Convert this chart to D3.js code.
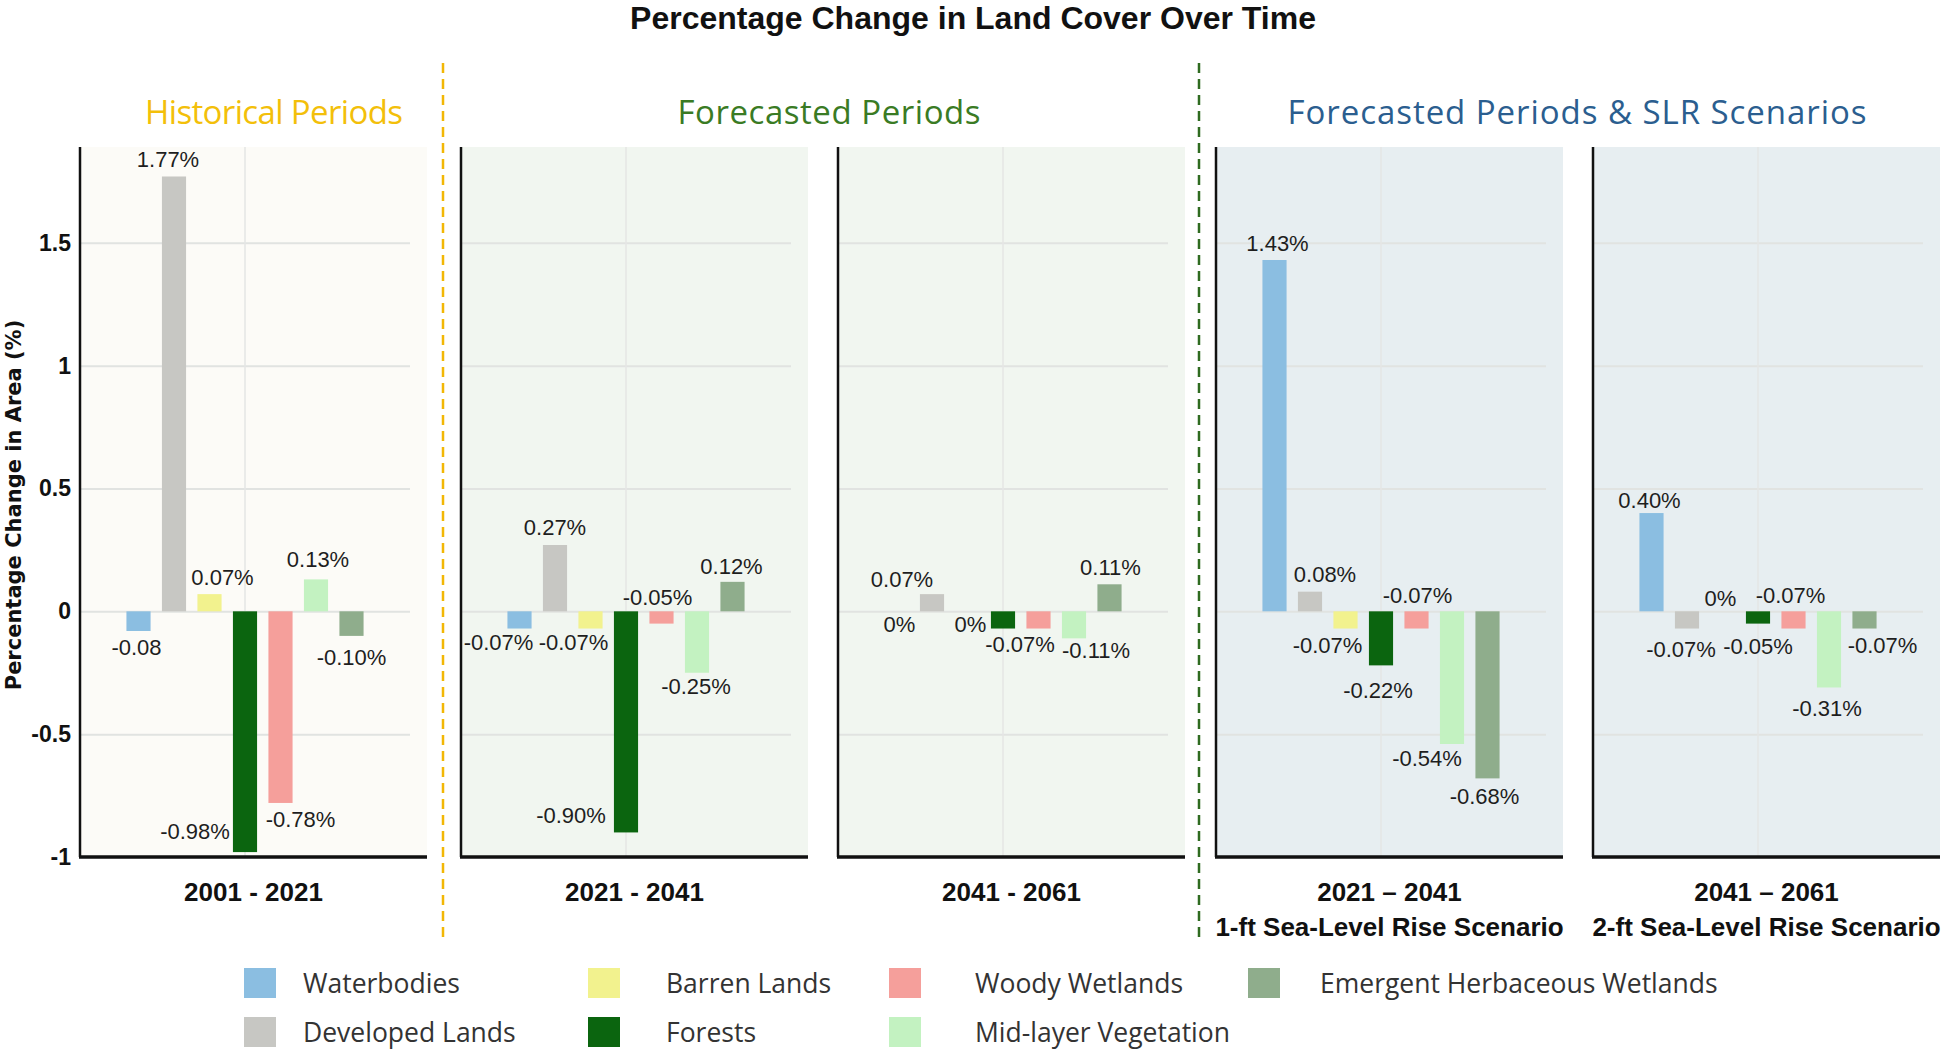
<!DOCTYPE html>
<html>
<head>
<meta charset="utf-8">
<script src="https://cdn.jsdelivr.net/npm/d3@7"></script>
<style>
  body { margin: 0; background: #fff; }
  svg { display: block; }
</style>
</head>
<body>
<script>
// land cover classes, in bar order
const categories = [
  "Waterbodies", "Developed Lands", "Barren Lands", "Forests",
  "Woody Wetlands", "Mid-layer Vegetation", "Emergent Herbaceous Wetlands"
];
const colors = ["#8bbee1", "#c7c7c3", "#f2f28e", "#0b650f", "#f59f9b", "#c3f2c1", "#8fad8c"];

const periods = ["2001 - 2021", "2021 - 2041", "2041 - 2061", "2021 \u2013 2041", "2041 \u2013 2061"];
const scenarios = ["", "", "", "1-ft Sea-Level Rise Scenario", "2-ft Sea-Level Rise Scenario"];

// % change in area per class
const values2001_2021 = [-0.08, 1.77, 0.07, -0.98, -0.78, 0.13, -0.10];
const values2021_2041 = [-0.07, 0.27, -0.07, -0.90, -0.05, -0.25, 0.12];
const values2041_2061 = [0, 0.07, 0, -0.07, -0.07, -0.11, 0.11];
const valuesSlr1ft = [1.43, 0.08, -0.07, -0.22, -0.07, -0.54, -0.68];
const valuesSlr2ft = [0.40, -0.07, 0, -0.05, -0.07, -0.31, -0.07];

const labels2001_2021 = ["-0.08", "1.77%", "0.07%", "-0.98%", "-0.78%", "0.13%", "-0.10%"];
const labels2021_2041 = ["-0.07%", "0.27%", "-0.07%", "-0.90%", "-0.05%", "-0.25%", "0.12%"];
const labels2041_2061 = ["0%", "0.07%", "0%", "-0.07%", "", "-0.11%", "0.11%"];
const labelsSlr1ft = ["1.43%", "0.08%", "-0.07%", "-0.22%", "-0.07%", "-0.54%", "-0.68%"];
const labelsSlr2ft = ["0.40%", "-0.07%", "0%", "-0.05%", "-0.07%", "-0.31%", "-0.07%"];

const yTicks = [-1, -0.5, 0, 0.5, 1, 1.5];

const groupNames = ["Historical Periods", "Forecasted Periods", "Forecasted Periods & SLR Scenarios"];

// ---- layout / style ----
const W = 1949, H = 1059;
const panelLefts = [80, 461, 838, 1216, 1593];
const panelTop = 147, panelBottom = 857;
const plotW = 330, bgW = 347;
const panelBg = ["#fcfbf7", "#f1f6f0", "#f1f6f0", "#e7eef1", "#e7eef1"];
const groupColors = ["#f3bf0a", "#3a7b24", "#2b5e8f"];
const headerX = [274, 829, 1577];
const headerLen = [258, 303, 579];
const separators = [{ x: 443, color: "#f2b705" }, { x: 1199, color: "#2f6b20" }];

// small hand nudges for value labels [dx, dy], as placed in the original
const labelNudge = [
  [[-2, 0], [-6, 0], [13, 0], [-50, -38], [20, 0], [2, -3], [0, 5]],
  [[-21, -3], [0, 0], [-17, -3], [-55, -34], [-4, -43], [-1, -3], [-1, 2]],
  [[3, -4], [-30, 2], [3, -4], [17, -1], [0, 0], [22, -5], [1, 0]],
  [[3, 0], [15, 0], [-18, 0], [-3, 8], [1, -50], [-25, -2], [-3, 1]],
  [[-2, 4], [-6, 4], [-2, -30], [0, 6], [-3, -50], [-2, 4], [18, 0]]
];

const panelValues = [values2001_2021, values2021_2041, values2041_2061, valuesSlr1ft, valuesSlr2ft];
const panelLabels = [labels2001_2021, labels2021_2041, labels2041_2061, labelsSlr1ft, labelsSlr2ft];

const sans = "'Liberation Sans', Arial, sans-serif";
const humanist = "'Open Sans', 'Noto Sans', sans-serif";

const svg = d3.select("body").append("svg")
  .attr("width", W).attr("height", H);

svg.append("rect").attr("width", W).attr("height", H).attr("fill", "#fff");

// title
svg.append("text")
  .attr("x", 973).attr("y", 29)
  .attr("text-anchor", "middle")
  .style("font-family", sans).style("font-weight", "bold").style("font-size", "32px")
  .attr("fill", "#111")
  .text("Percentage Change in Land Cover Over Time");

const y = d3.scaleLinear().domain([-1, 1.89]).range([panelBottom, panelTop]);

panelValues.forEach((vals, p) => {
  const L = panelLefts[p];
  const g = svg.append("g").attr("transform", `translate(${L},0)`);

  const x0 = d3.scaleBand().domain([periods[p]]).range([0, plotW]).paddingOuter(0.164);
  const x1 = d3.scaleBand().domain(categories).range([0, x0.bandwidth()])
    .paddingInner(0.32).paddingOuter(0.16);

  g.append("rect")
    .attr("x", 0).attr("y", panelTop)
    .attr("width", bgW).attr("height", panelBottom - panelTop)
    .attr("fill", panelBg[p]);

  // horizontal grid
  g.append("g")
    .call(d3.axisLeft(y).tickValues(yTicks.filter(t => t > -1)).tickSize(-plotW).tickFormat(""))
    .call(a => a.select(".domain").remove())
    .call(a => a.selectAll("line").attr("stroke", "#e1e3e1").attr("stroke-width", 2));

  // vertical grid at the category centre
  const cx = x0(periods[p]) + x0.bandwidth() / 2;
  g.append("line")
    .attr("x1", cx).attr("x2", cx)
    .attr("y1", panelTop).attr("y2", panelBottom)
    .attr("stroke", "#e4e6e4").attr("stroke-width", 1.5);

  // bars
  g.selectAll("rect.bar")
    .data(vals)
    .join("rect")
    .attr("class", "bar")
    .attr("x", (d, i) => x0(periods[p]) + x1(categories[i]))
    .attr("y", d => y(Math.max(0, d)))
    .attr("width", x1.bandwidth())
    .attr("height", d => Math.abs(y(d) - y(0)))
    .attr("fill", (d, i) => colors[i]);

  // value labels
  g.selectAll("text.val")
    .data(vals)
    .join("text")
    .attr("class", "val")
    .attr("x", (d, i) => x0(periods[p]) + x1(categories[i]) + x1.bandwidth() / 2 + labelNudge[p][i][0])
    .attr("y", (d, i) => (d > 0 ? y(d) - 17 : y(d) + 17) + labelNudge[p][i][1])
    .attr("text-anchor", "middle")
    .attr("dominant-baseline", "central")
    .style("font-family", sans).style("font-size", "22px")
    .attr("fill", "#1e1e1e")
    .text((d, i) => panelLabels[p][i]);

  // axis lines
  g.append("line")
    .attr("x1", 0).attr("x2", 0).attr("y1", panelTop).attr("y2", panelBottom)
    .attr("stroke", "#111").attr("stroke-width", 2.5);
  g.append("line")
    .attr("x1", -1).attr("x2", bgW).attr("y1", panelBottom).attr("y2", panelBottom)
    .attr("stroke", "#111").attr("stroke-width", 3.5);

  // period labels
  g.append("text")
    .attr("x", bgW / 2).attr("y", 901)
    .attr("text-anchor", "middle")
    .style("font-family", sans).style("font-weight", "bold").style("font-size", "26px")
    .attr("fill", "#111")
    .text(periods[p]);
  if (scenarios[p]) {
    g.append("text")
      .attr("x", bgW / 2).attr("y", 936)
      .attr("text-anchor", "middle")
      .style("font-family", sans).style("font-weight", "bold").style("font-size", "26px")
      .attr("fill", "#111")
      .text(scenarios[p]);
  }

  if (p === 0) {
    g.append("g")
      .call(d3.axisLeft(y).tickValues(yTicks).tickSize(0).tickPadding(9).tickFormat(d => String(d)))
      .call(a => a.select(".domain").remove())
      .call(a => a.selectAll("text")
        .style("font-family", sans).style("font-weight", "bold").style("font-size", "23px")
        .attr("fill", "#111"));
  }
});

// y axis title
svg.append("text")
  .attr("transform", "translate(14,505) rotate(-90)")
  .attr("text-anchor", "middle")
  .attr("dominant-baseline", "central")
  .style("font-family", "'DejaVu Sans', sans-serif").style("font-weight", "bold").style("font-size", "21px")
  .attr("fill", "#111")
  .text("Percentage Change in Area (%)");

// group headers
groupNames.forEach((name, i) => {
  svg.append("text")
    .attr("x", headerX[i])
    .attr("y", 124)
    .attr("text-anchor", "middle")
    .attr("textLength", headerLen[i])
    .attr("lengthAdjust", "spacing")
    .style("font-family", humanist).style("font-size", "33px")
    .attr("fill", groupColors[i])
    .text(name);
});

// dashed separators
separators.forEach(s => {
  svg.append("line")
    .attr("x1", s.x).attr("x2", s.x).attr("y1", 63).attr("y2", 940)
    .attr("stroke", s.color).attr("stroke-width", 2.5)
    .attr("stroke-dasharray", "10,6");
});

// legend
const swatchX = [244, 588, 889, 1248];
const textX = [303, 666, 975, 1320];
const rowY = [983, 1032];
const legend = svg.append("g");
categories.forEach((c, i) => {
  const col = Math.floor(i / 2), row = i % 2;
  legend.append("rect")
    .attr("x", swatchX[col]).attr("y", rowY[row] - 15)
    .attr("width", 32).attr("height", 30)
    .attr("fill", colors[i]);
  legend.append("text")
    .attr("x", textX[col]).attr("y", rowY[row])
    .attr("dominant-baseline", "central")
    .style("font-family", humanist).style("font-size", "26.5px")
    .attr("fill", "#333")
    .text(c);
});
</script>
</body>
</html>
